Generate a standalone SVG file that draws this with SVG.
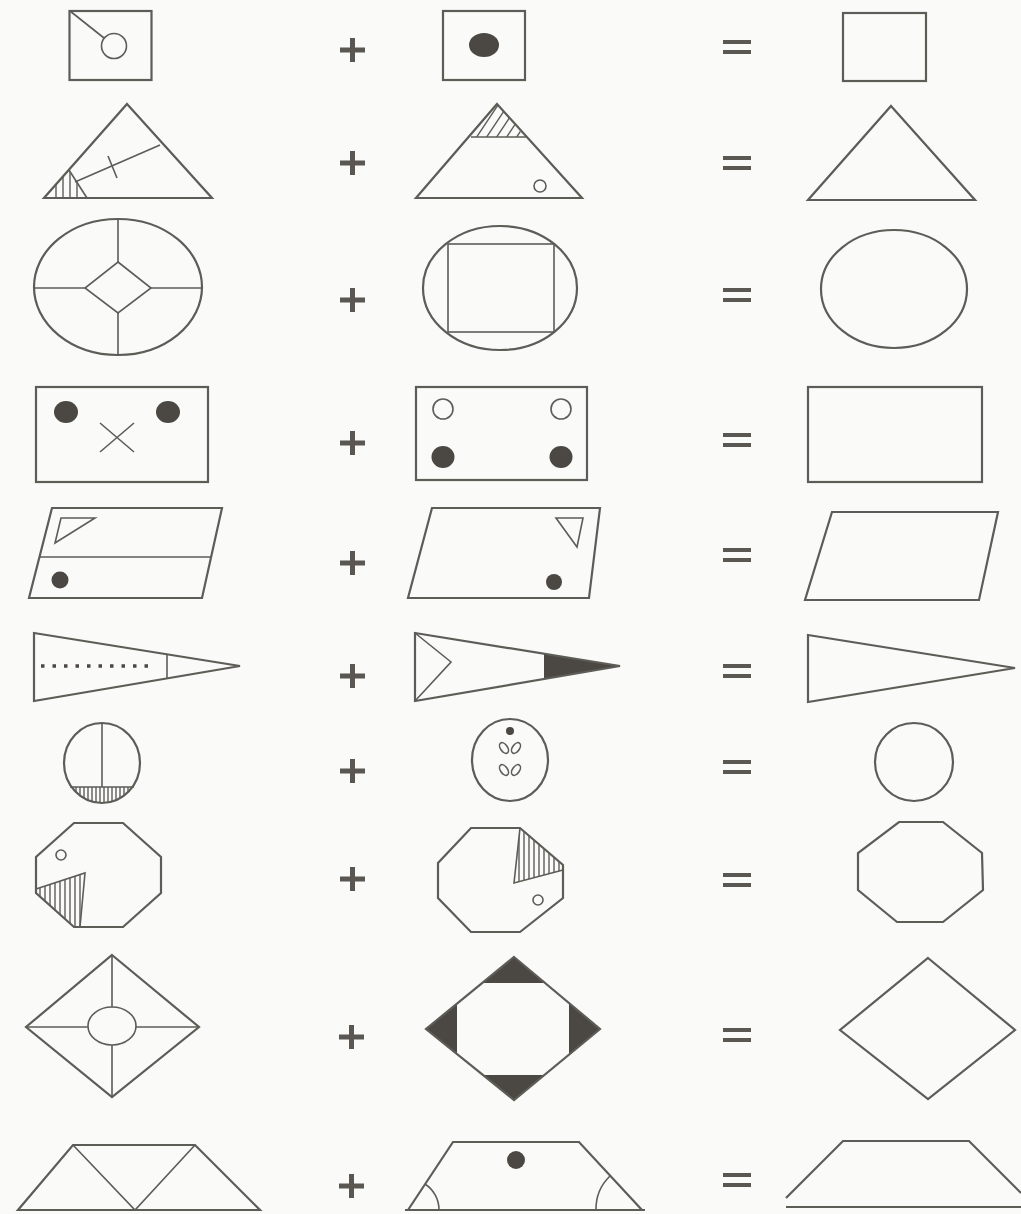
<svg xmlns="http://www.w3.org/2000/svg" width="1021" height="1214" viewBox="0 0 1021 1214">
<style>
.s{fill:none;stroke:#5d5c57;stroke-width:2.2;stroke-linejoin:miter}
.t{fill:none;stroke:#5d5c57;stroke-width:1.6}
.h{stroke:#5d5c57;stroke-width:1.4}
.f{fill:#4b4742;stroke:none}
.op{stroke:#5a5752;stroke-width:5;fill:none}
.eq{stroke:#5a5752;stroke-width:4;fill:none}
</style>
<defs>
<clipPath id="c1"><polygon points="44,197 69,170 87,197"/></clipPath>
<clipPath id="c2"><polygon points="497,104 473,137 525,137"/></clipPath>
<clipPath id="c3"><rect x="60" y="787" width="90" height="20"/></clipPath>
<clipPath id="c3b"><ellipse cx="102" cy="763" rx="38" ry="40"/></clipPath>
<clipPath id="c4"><polygon points="36,889 85,873 80,927 74,927 36,893"/></clipPath>
<clipPath id="c5"><polygon points="520,828 514,883 563,870 563,865"/></clipPath>
</defs>
<rect width="1021" height="1214" fill="#fafaf8"/>

<g id="operators">
<path class="op" d="M340,50h25M352.5,38v24"/>
<path class="op" d="M340,163h25M352.5,151v24"/>
<path class="op" d="M340,300h25M352.5,288v24"/>
<path class="op" d="M340,443h25M352.5,431v24"/>
<path class="op" d="M340,563h25M352.5,551v24"/>
<path class="op" d="M340,676h25M352.5,664v24"/>
<path class="op" d="M340,771h25M352.5,759v24"/>
<path class="op" d="M340,879h25M352.5,867v24"/>
<path class="op" d="M339,1037h25M351.5,1025v24"/>
<path class="op" d="M339,1186h25M351.5,1174v24"/>
<path class="eq" d="M723,42h28M723,52h28"/>
<path class="eq" d="M723,158h28M723,168h28"/>
<path class="eq" d="M723,290h28M723,300h28"/>
<path class="eq" d="M723,435h28M723,445h28"/>
<path class="eq" d="M723,550h28M723,560h28"/>
<path class="eq" d="M723,666h28M723,676h28"/>
<path class="eq" d="M723,762h28M723,772h28"/>
<path class="eq" d="M723,875h28M723,885h28"/>
<path class="eq" d="M723,1030h28M723,1040h28"/>
<path class="eq" d="M723,1175h28M723,1185h28"/>
</g>

<!-- Row 1 -->
<g id="r1a">
<rect class="s" x="69.5" y="11" width="82" height="69"/>
<line class="t" x1="70" y1="11" x2="104" y2="38"/>
<circle class="t" cx="114" cy="46" r="12.5"/>
</g>
<g id="r1b">
<rect class="s" x="443" y="11" width="82" height="69"/>
<ellipse class="f" cx="484" cy="45" rx="15" ry="12"/>
</g>
<g id="r1c"><rect class="s" x="843" y="13" width="83" height="68"/></g>

<!-- Row 2 -->
<g id="r2a">
<polygon class="s" points="127,104 212,198 44,198"/>
<line class="t" x1="69" y1="170" x2="87" y2="198"/>
<line class="t" x1="160" y1="145" x2="75" y2="182"/>
<line class="t" x1="108" y1="156" x2="117" y2="178"/>
<g clip-path="url(#c1)" class="h">
<line x1="56" y1="160" x2="56" y2="200"/><line x1="63" y1="160" x2="63" y2="200"/>
<line x1="70" y1="160" x2="70" y2="200"/><line x1="77" y1="160" x2="77" y2="200"/>
</g>
</g>
<g id="r2b">
<polygon class="s" points="497,104 582,198 416,198"/>
<line class="t" x1="471" y1="137" x2="526" y2="137"/>
<g clip-path="url(#c2)" class="h">
<line x1="476" y1="138" x2="500" y2="102"/><line x1="486" y1="138" x2="510" y2="102"/>
<line x1="496" y1="138" x2="520" y2="102"/><line x1="506" y1="138" x2="530" y2="102"/>
<line x1="516" y1="138" x2="540" y2="102"/>
</g>
<circle class="t" cx="540" cy="186" r="6"/>
</g>
<g id="r2c"><polygon class="s" points="891,106 975,200 808,200"/></g>

<!-- Row 3 -->
<g id="r3a">
<ellipse class="s" cx="118" cy="287" rx="84" ry="68"/>
<polygon class="t" points="118,262 151,288 118,313 85,288"/>
<path class="t" d="M118,219V262M118,313V355M34,288H85M151,288H202"/>
</g>
<g id="r3b">
<ellipse class="s" cx="500" cy="288" rx="77" ry="62"/>
<rect class="t" x="448" y="244" width="106" height="88"/>
</g>
<g id="r3c"><ellipse class="s" cx="894" cy="289" rx="73" ry="59"/></g>

<!-- Row 4 -->
<g id="r4a">
<rect class="s" x="36" y="387" width="172" height="95"/>
<ellipse class="f" cx="66" cy="412" rx="12" ry="11"/>
<ellipse class="f" cx="168" cy="412" rx="12" ry="11"/>
<path class="t" d="M100,423L134,452M134,423L100,452"/>
</g>
<g id="r4b">
<rect class="s" x="416" y="387" width="171" height="93"/>
<ellipse class="t" cx="443" cy="409" rx="10" ry="10"/>
<ellipse class="t" cx="561" cy="409" rx="10" ry="10"/>
<ellipse class="f" cx="443" cy="457" rx="11.5" ry="11"/>
<ellipse class="f" cx="561" cy="457" rx="11.5" ry="11"/>
</g>
<g id="r4c"><rect class="s" x="808" y="387" width="174" height="95"/></g>

<!-- Row 5 -->
<g id="r5a">
<polygon class="s" points="52,508 222,508 202,598 29,598"/>
<line class="t" x1="40" y1="557" x2="211" y2="557"/>
<polygon class="t" points="61,518 95,518 55,543"/>
<circle class="f" cx="60" cy="580" r="8.5"/>
</g>
<g id="r5b">
<polygon class="s" points="432,508 600,508 589,598 408,598"/>
<polygon class="t" points="556,518 583,518 577,547"/>
<circle class="f" cx="554" cy="582" r="8"/>
</g>
<g id="r5c"><polygon class="s" points="832,512 998,512 979,600 805,600"/></g>

<!-- Row 6 -->
<g id="r6a">
<polygon class="s" points="34,633 240,666 34,701"/>
<line class="t" x1="167" y1="654" x2="167" y2="678"/>
<line x1="41" y1="666" x2="153" y2="666" stroke="#4b4742" stroke-width="3.5" stroke-dasharray="3.5,8"/>
</g>
<g id="r6b">
<polygon class="f" points="544,654 620,666 544,679"/>
<polygon class="s" points="415,633 620,666 415,701"/>
<polyline class="t" points="415,633 451,662 415,701"/>
</g>
<g id="r6c"><polygon class="s" points="808,635 1015,668 808,702"/></g>

<!-- Row 7 -->
<g id="r7a">
<g clip-path="url(#c3b)"><g clip-path="url(#c3)" class="h">
<line x1="68" y1="787" x2="68" y2="810"/><line x1="72" y1="787" x2="72" y2="810"/><line x1="76" y1="787" x2="76" y2="810"/>
<line x1="80" y1="787" x2="80" y2="810"/><line x1="84" y1="787" x2="84" y2="810"/><line x1="88" y1="787" x2="88" y2="810"/>
<line x1="92" y1="787" x2="92" y2="810"/><line x1="96" y1="787" x2="96" y2="810"/><line x1="100" y1="787" x2="100" y2="810"/>
<line x1="104" y1="787" x2="104" y2="810"/><line x1="108" y1="787" x2="108" y2="810"/><line x1="112" y1="787" x2="112" y2="810"/>
<line x1="116" y1="787" x2="116" y2="810"/><line x1="120" y1="787" x2="120" y2="810"/><line x1="124" y1="787" x2="124" y2="810"/>
<line x1="128" y1="787" x2="128" y2="810"/><line x1="132" y1="787" x2="132" y2="810"/><line x1="136" y1="787" x2="136" y2="810"/>
</g></g>
<ellipse class="s" cx="102" cy="763" rx="38" ry="40"/>
<line class="t" x1="102" y1="723" x2="102" y2="787"/>
<line class="t" x1="70" y1="787" x2="134" y2="787"/>
</g>
<g id="r7b">
<ellipse class="s" cx="510" cy="760" rx="38" ry="41"/>
<circle class="f" cx="510" cy="731" r="4"/>
<g class="t" stroke-width="1.4">
<ellipse cx="504" cy="748" rx="3.5" ry="6" transform="rotate(-35 504 748)"/>
<ellipse cx="516" cy="748" rx="3.5" ry="6" transform="rotate(35 516 748)"/>
<ellipse cx="504" cy="770" rx="3.5" ry="6" transform="rotate(-35 504 770)"/>
<ellipse cx="516" cy="770" rx="3.5" ry="6" transform="rotate(35 516 770)"/>
</g>
</g>
<g id="r7c"><circle class="s" cx="914" cy="762" r="39"/></g>

<!-- Row 8 -->
<g id="r8a">
<g clip-path="url(#c4)" class="h">
<line x1="40" y1="870" x2="40" y2="930"/><line x1="45" y1="870" x2="45" y2="930"/><line x1="50" y1="870" x2="50" y2="930"/>
<line x1="55" y1="870" x2="55" y2="930"/><line x1="60" y1="870" x2="60" y2="930"/><line x1="65" y1="870" x2="65" y2="930"/>
<line x1="70" y1="870" x2="70" y2="930"/><line x1="75" y1="870" x2="75" y2="930"/><line x1="80" y1="870" x2="80" y2="930"/>
</g>
<polygon class="s" points="74,823 123,823 161,857 161,893 123,927 74,927 36,893 36,857"/>
<polyline class="t" points="36,889 85,873 80,927"/>
<circle class="t" cx="61" cy="855" r="5"/>
</g>
<g id="r8b">
<g clip-path="url(#c5)" class="h">
<line x1="519" y1="825" x2="519" y2="890"/><line x1="524" y1="825" x2="524" y2="890"/><line x1="529" y1="825" x2="529" y2="890"/>
<line x1="534" y1="825" x2="534" y2="890"/><line x1="539" y1="825" x2="539" y2="890"/><line x1="544" y1="825" x2="544" y2="890"/>
<line x1="549" y1="825" x2="549" y2="890"/><line x1="554" y1="825" x2="554" y2="890"/><line x1="559" y1="825" x2="559" y2="890"/>
</g>
<polygon class="s" points="471,828 520,828 563,865 563,898 520,932 471,932 438,898 438,863"/>
<polyline class="t" points="520,828 514,883 563,870"/>
<circle class="t" cx="538" cy="900" r="5"/>
</g>
<g id="r8c"><polygon class="s" points="899,822 943,822 982,853 983,890 943,922 897,922 858,890 858,853"/></g>

<!-- Row 9 -->
<g id="r9a">
<polygon class="s" points="112,955 199,1027 112,1097 26,1027"/>
<ellipse class="t" cx="112" cy="1026" rx="24" ry="19"/>
<path class="t" d="M112,955V1007M112,1045V1097M26,1027H88M136,1027H199"/>
</g>
<g id="r9b">
<polygon class="f" points="514,957 546,983 482,983"/>
<polygon class="f" points="426,1029 457,1003 457,1055"/>
<polygon class="f" points="600,1029 569,1003 569,1055"/>
<polygon class="f" points="514,1100 545,1075 483,1075"/>
<polygon class="s" points="514,957 600,1029 514,1100 426,1029"/>
</g>
<g id="r9c"><polygon class="s" points="928,958 1015,1030 928,1099 840,1030"/></g>

<!-- Row 10 -->
<g id="r10a">
<polygon class="s" points="73,1145 195,1145 260,1210 18,1210"/>
<polyline class="t" points="73,1145 135,1210 195,1145"/>
</g>
<g id="r10b">
<polyline class="s" points="408,1210 453,1142 579,1142 642,1210"/>
<line class="s" x1="405" y1="1210" x2="645" y2="1210"/>
<circle class="f" cx="516" cy="1160" r="9"/>
<path class="t" d="M439,1210A31,31 0 0 0 425,1184"/>
<path class="t" d="M596,1210A46,46 0 0 1 610,1176"/>
</g>
<g id="r10c">
<polyline class="s" points="786,1198 843,1141 969,1141 1021,1193"/>
<line class="s" x1="786" y1="1207" x2="1021" y2="1207"/>
</g>
</svg>
